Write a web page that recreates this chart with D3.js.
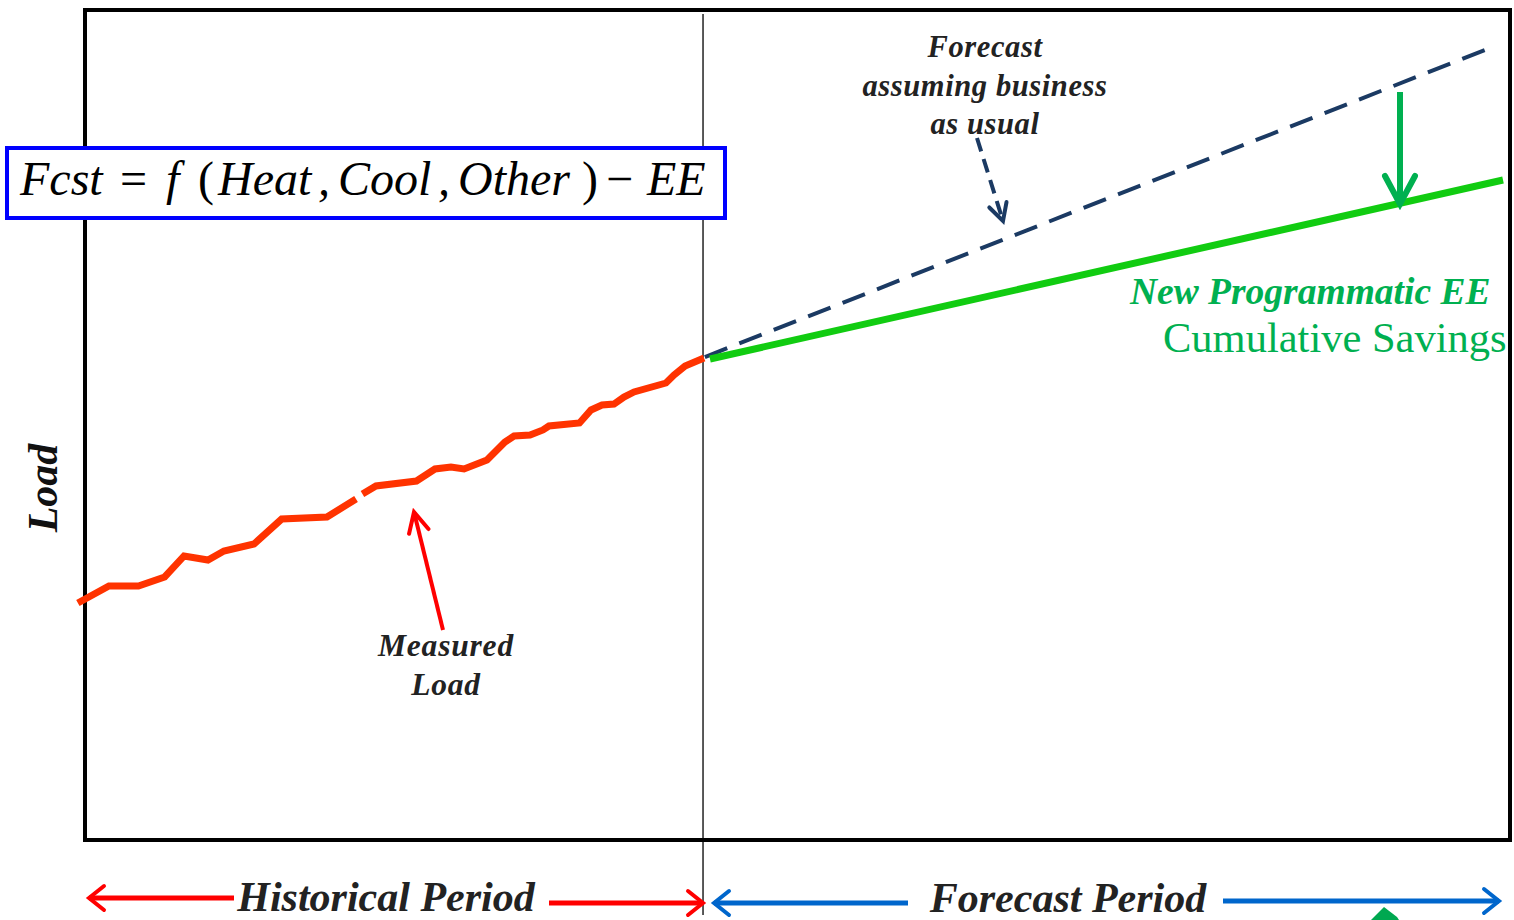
<!DOCTYPE html>
<html><head><meta charset="utf-8">
<script src="https://cdn.jsdelivr.net/npm/d3@7"></script>
<style>html,body{margin:0;padding:0;background:#fff;}svg{display:block;}</style>
</head><body>
<script>
// ---- data (time index 0..100 across frame, load index 0..100 bottom..top) ----
const measuredT = [-0.5,1.68,3.75,5.59,6.95,8.63,9.75,11.86,13.80,16.98,19.02,null,19.47,20.42,23.26,24.56,25.68,26.60,28.21,29.47,30.11,31.23,32.14,32.56,34.70,35.51,36.28,37.12,37.82,38.53,40.77,41.33,42.11,43.44];
const measuredLoad = [28.55,30.60,30.60,31.69,34.22,33.73,34.82,35.66,38.67,38.92,41.08,null,41.69,42.65,43.25,44.70,44.94,44.70,45.78,47.95,48.67,48.80,49.40,49.88,50.24,51.81,52.41,52.53,53.37,53.98,55.06,56.02,57.11,58.07];
const bauT = [43.5, 98.95];
const bauLoad = [58.19, 95.66];
const eeT = [43.86, 99.51];
const eeLoad = [57.95, 79.52];
const forecastStartT = 43.37;
const savingsArrowT = 92.28, savingsArrowLoad = [90.12, 76.63];
const formulaTokens = ["Fcst", "=", "f", "(", "Heat", ",", "Cool", ",", "Other", ")", "\u2212", "EE"];

const W = 1514, H = 920;
const svg = d3.select("body").append("svg").attr("width", W).attr("height", H);
const x = d3.scaleLinear().domain([0, 100]).range([85, 1510]);
const y = d3.scaleLinear().domain([0, 100]).range([840, 10]);

const serif = "Liberation Serif, Times New Roman, serif";
const defs = svg.append("defs");
function chevron(id, color, len, half, sw) {
  defs.append("marker").attr("id", id).attr("markerUnits", "userSpaceOnUse")
    .attr("viewBox", `${-len - sw} ${-half - sw} ${len + 2 * sw} ${2 * half + 2 * sw}`)
    .attr("markerWidth", len + 2 * sw).attr("markerHeight", 2 * half + 2 * sw)
    .attr("refX", 0).attr("refY", 0).attr("orient", "auto-start-reverse")
    .append("path").attr("d", `M${-len},${-half} L0,0 L${-len},${half}`)
    .attr("fill", "none").attr("stroke", color).attr("stroke-width", sw)
    .attr("stroke-linecap", "round").attr("stroke-linejoin", "miter");
}
chevron("ahGreen", "#00b050", 28, 15, 6);
chevron("ahRed", "#ff0000", 20, 10, 4);
chevron("ahNavy", "#1b3a63", 17, 9, 4);
chevron("ahRedB", "#ff0000", 15, 12, 4);
chevron("ahBlue", "#0066cc", 15, 12, 4);

// frame
svg.append("rect").attr("x", x(0)).attr("y", y(100)).attr("width", x(100) - x(0)).attr("height", y(0) - y(100))
  .attr("fill", "none").attr("stroke", "#000").attr("stroke-width", 4);

// divider
svg.append("line").attr("x1", x(forecastStartT)).attr("x2", x(forecastStartT)).attr("y1", 14).attr("y2", 915)
  .attr("stroke", "#000").attr("stroke-width", 1.3);

// measured load
const pts = measuredT.map((t, i) => [t, measuredLoad[i]]);
const line = d3.line().defined(d => d[0] !== null).x(d => x(d[0])).y(d => y(d[1]));
svg.append("path").attr("d", line(pts)).attr("fill", "none").attr("stroke", "#ff3300")
  .attr("stroke-width", 7).attr("stroke-linejoin", "miter");

// business as usual forecast
svg.append("path").attr("d", line(bauT.map((t, i) => [t, bauLoad[i]]))).attr("fill", "none")
  .attr("stroke", "#1b3a63").attr("stroke-width", 4).attr("stroke-dasharray", "24 13");

// EE forecast
svg.append("path").attr("d", line(eeT.map((t, i) => [t, eeLoad[i]]))).attr("fill", "none")
  .attr("stroke", "#11cc11").attr("stroke-width", 7);

// savings arrow
svg.append("line").attr("x1", x(savingsArrowT)).attr("x2", x(savingsArrowT))
  .attr("y1", y(savingsArrowLoad[0])).attr("y2", y(savingsArrowLoad[1]))
  .attr("stroke", "#00b050").attr("stroke-width", 6).attr("marker-end", "url(#ahGreen)");

// formula box
svg.append("rect").attr("x", 7).attr("y", 148).attr("width", 718).attr("height", 70)
  .attr("fill", "#fff").attr("stroke", "#0000ff").attr("stroke-width", 4);
const fx = [20, 120, 166, 198, 218, 318, 338, 438, 458, 582, 606, 647];
const ft = svg.append("text").attr("y", 195).attr("font-family", serif).attr("font-style", "italic")
  .attr("font-size", 48).attr("fill", "#000");
formulaTokens.forEach((s, i) => {
  const ts = ft.append("tspan").attr("x", fx[i]).text(s);
  if (["=", "(", ")", "\u2212"].includes(s)) ts.attr("font-style", "normal");
});

// annotation: forecast BAU
const ann = svg.append("text").attr("font-family", serif).attr("font-style", "italic").attr("font-weight", "bold")
  .attr("font-size", 30.5).attr("fill", "#222").attr("text-anchor", "middle");
[["Forecast", 57], ["assuming business", 96], ["as usual", 134]].forEach(([s, yy]) =>
  ann.append("tspan").attr("x", 985).attr("y", yy).attr("letter-spacing", 0.6).text(s));
svg.append("line").attr("x1", 977).attr("y1", 138).attr("x2", 1003).attr("y2", 221)
  .attr("stroke", "#1b3a63").attr("stroke-width", 4).attr("stroke-dasharray", "14 8")
  .attr("marker-end", "url(#ahNavy)");

// annotation: measured load
const ml = svg.append("text").attr("font-family", serif).attr("font-style", "italic").attr("font-weight", "bold")
  .attr("font-size", 31.5).attr("fill", "#222").attr("text-anchor", "middle");
[["Measured", 656], ["Load", 695]].forEach(([s, yy]) =>
  ml.append("tspan").attr("x", 446).attr("y", yy).attr("letter-spacing", 0.8).text(s));
svg.append("line").attr("x1", 443).attr("y1", 630).attr("x2", 414).attr("y2", 512)
  .attr("stroke", "#ff0000").attr("stroke-width", 4).attr("marker-end", "url(#ahRed)");

// EE label
svg.append("text").attr("x", 1130).attr("y", 304).attr("font-family", serif).attr("font-style", "italic")
  .attr("font-weight", "bold").attr("font-size", 37.5).attr("fill", "#00b050").text("New Programmatic EE");
svg.append("text").attr("x", 1163).attr("y", 352).attr("font-family", serif)
  .attr("font-size", 42.5).attr("fill", "#00b050").text("Cumulative Savings");

// y label
svg.append("text").attr("transform", "translate(57,488) rotate(-90)").attr("text-anchor", "middle")
  .attr("font-family", serif).attr("font-style", "italic").attr("font-weight", "bold")
  .attr("font-size", 42).attr("fill", "#111").text("Load");

// bottom period labels
svg.append("text").attr("x", 386).attr("y", 911).attr("text-anchor", "middle").attr("font-family", serif)
  .attr("font-style", "italic").attr("font-weight", "bold").attr("font-size", 42).attr("fill", "#222")
  .text("Historical Period");
svg.append("line").attr("x1", 234).attr("y1", 898).attr("x2", 89).attr("y2", 898)
  .attr("stroke", "#ff0000").attr("stroke-width", 5).attr("marker-end", "url(#ahRedB)");
svg.append("line").attr("x1", 549).attr("y1", 903).attr("x2", 703).attr("y2", 903)
  .attr("stroke", "#ff0000").attr("stroke-width", 5).attr("marker-end", "url(#ahRedB)");

svg.append("text").attr("x", 1068).attr("y", 912).attr("text-anchor", "middle").attr("font-family", serif)
  .attr("font-style", "italic").attr("font-weight", "bold").attr("font-size", 42).attr("fill", "#222")
  .text("Forecast Period");
svg.append("line").attr("x1", 908).attr("y1", 903).attr("x2", 714).attr("y2", 903)
  .attr("stroke", "#0066cc").attr("stroke-width", 5).attr("marker-end", "url(#ahBlue)");
svg.append("line").attr("x1", 1223).attr("y1", 901).attr("x2", 1499).attr("y2", 901)
  .attr("stroke", "#0066cc").attr("stroke-width", 5).attr("marker-end", "url(#ahBlue)");

// clipped green shape at bottom edge
svg.append("path").attr("d", "M1371,920 L1384,907 L1397,917 L1399,920 Z").attr("fill", "#00a850");
</script>
</body></html>
